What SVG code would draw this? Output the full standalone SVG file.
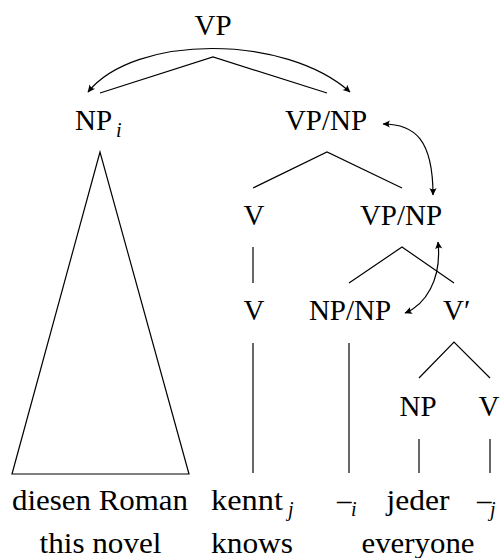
<svg xmlns="http://www.w3.org/2000/svg" width="503" height="558" viewBox="0 0 503 558" font-family="'Times New Roman', 'Liberation Serif', Times, 'DejaVu Serif', serif">
<style>
text{font-family:'Times New Roman','Liberation Serif',Times,'DejaVu Serif',serif;font-size:29px;fill:#000}
.m{text-anchor:middle}
.sub{font-size:20px;font-style:italic}
.e{stroke:#000;stroke-width:1.2;fill:none}
.a{stroke:#000;stroke-width:1.2;fill:none;marker-start:url(#ah);marker-end:url(#ah)}
</style>
<defs>
<marker id="ah" viewBox="-8 -4 9 8" refX="0" refY="0" markerWidth="9" markerHeight="8" orient="auto-start-reverse" markerUnits="userSpaceOnUse">
<path d="M0.5,0 L-7,-3.6 Q-4.3,0 -7,3.6 Z" fill="#000"/>
</marker>
</defs>
<rect width="503" height="558" fill="#fff"/>
<g id="connectors">
<polyline class="e" points="100,93 213,57 327,93"/>
<polyline class="e" points="253,188 327,152 402,188"/>
<line class="e" x1="253" y1="247" x2="253" y2="283"/>
<polyline class="e" points="349,283 402,247 454,283"/>
<polyline class="e" points="419,378 454,342 490,378"/>
<line class="e" x1="253" y1="343" x2="253" y2="473"/>
<line class="e" x1="349" y1="343" x2="349" y2="473"/>
<line class="e" x1="419" y1="439" x2="419" y2="473"/>
<line class="e" x1="490" y1="439" x2="490" y2="473"/>
<polygon class="e" points="100,152 12,474 189,474"/>
<path class="a" d="M88,92 C135,34 285,34 350,92"/>
<path class="a" d="M383,124 C415,124 433,140 433,195"/>
<path class="a" d="M405,313 C425,305 442,280 438,242"/>
</g>
<g id="n-vp"><text class="m" x="213" y="35">VP</text></g>
<g id="n-npi"><text x="75" y="130">NP</text><text class="sub" x="116" y="137">i</text></g>
<g id="n-vpnp1"><text class="m" x="326" y="130">VP/NP</text></g>
<g id="n-v1"><text class="m" x="254" y="225">V</text></g>
<g id="n-vpnp2"><text class="m" x="401" y="225">VP/NP</text></g>
<g id="n-v2"><text class="m" x="254" y="320">V</text></g>
<g id="n-npnp"><text class="m" x="350" y="320">NP/NP</text></g>
<g id="n-vbar"><text x="443" y="320">V′</text></g>
<g id="n-np"><text class="m" x="418" y="416">NP</text></g>
<g id="n-v3"><text class="m" x="489" y="416">V</text></g>
<g id="w-diesen"><text class="m" x="100" y="510" textLength="176" lengthAdjust="spacingAndGlyphs">diesen Roman</text><text class="m" x="100.5" y="553" textLength="122" lengthAdjust="spacingAndGlyphs">this novel</text></g>
<g id="w-kennt"><text x="211" y="510" textLength="72" lengthAdjust="spacingAndGlyphs">kennt</text><text class="sub" x="288" y="516">j</text><text class="m" x="252" y="553" textLength="82" lengthAdjust="spacingAndGlyphs">knows</text></g>
<g id="w-trace-i"><text x="337" y="510">–</text><text class="sub" x="351" y="516">i</text></g>
<g id="w-jeder"><text class="m" x="418" y="510" textLength="63" lengthAdjust="spacingAndGlyphs">jeder</text><text class="m" x="418" y="553" textLength="113" lengthAdjust="spacingAndGlyphs">everyone</text></g>
<g id="w-trace-j"><text x="477" y="510">–</text><text class="sub" x="490" y="516">j</text></g>
</svg>
